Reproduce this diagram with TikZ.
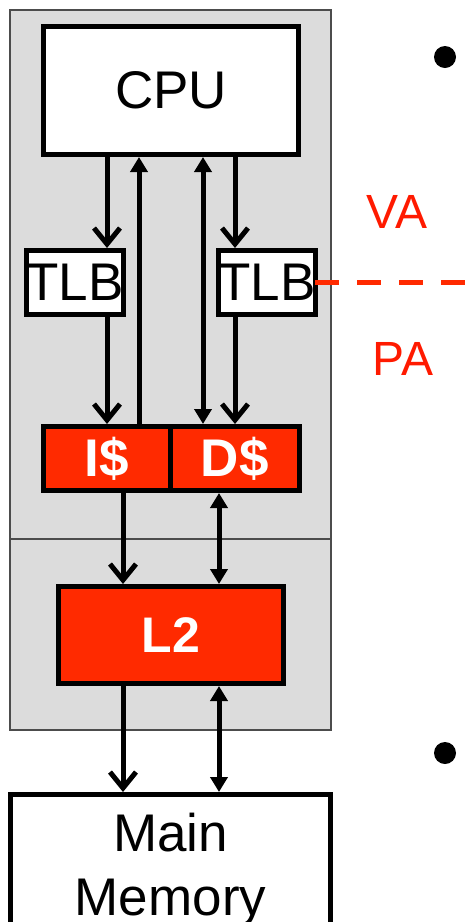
\documentclass[tikz,border=0pt]{standalone}
\usepackage{fontspec}
\setmainfont{Liberation Sans}
\usetikzlibrary{arrows.meta,calc}
\definecolor{cachered}{HTML}{FF2A00}
\definecolor{vared}{HTML}{FF1A00}
\definecolor{chipgray}{HTML}{DCDCDC}
\begin{document}
\begin{tikzpicture}[x=1pt,y=-1pt,
  box/.style={draw, line width=5pt, fill=white, inner sep=0pt,
    font=\fontsize{53}{64}\selectfont},
  cache/.style={box, fill=cachered, text=white,
    font=\bfseries\fontsize{53}{64}\selectfont},
  chip/.style={draw=black!70, line width=1.3pt, fill=chipgray, inner sep=0pt},
  opn/.style={line width=5pt, -{Straight Barb[length=16pt,width=26pt]}},
  fil/.style={line width=5pt, -{Triangle[length=15pt,width=17pt]}},
  bid/.style={line width=5pt, {Triangle[length=15pt,width=17pt]}-{Triangle[length=15pt,width=17pt]}},
  lbl/.style={text=vared, font=\fontsize{48}{58}\selectfont},
  bullet/.style={circle, fill=black, inner sep=0pt, minimum size=22pt}]
\clip (0,0) rectangle (466,922);
% chip background
\node[chip, minimum width=321pt, minimum height=529pt] (chiptop) at (170.5,274.5) {};
\node[chip, minimum width=321pt, minimum height=191pt] (chipbot) at (170.5,634.5) {};
% boxes
\node[box, minimum width=255pt, minimum height=128pt] (cpu) at (171,90.5) {CPU};
\node[box, minimum width=97pt, minimum height=64pt] (tlbL) at (75,282.5) {TLB};
\node[box, minimum width=97pt, minimum height=64pt] (tlbR) at (267,282.5) {TLB};
\node[cache, minimum width=127pt, minimum height=64pt] (icache) at (107,458.5) {I\$};
\node[cache, minimum width=128.5pt, minimum height=64pt] (dcache) at (234.75,458.5) {D\$};
\node[cache, minimum width=225pt, minimum height=97pt, font=\bfseries\fontsize{50}{60}\selectfont] (l2) at (171,635) {L2};
\node[box, minimum width=320pt, minimum height=150pt, align=center] (mem) at (170.5,869.5) {Main\\Memory};
% column coordinates
\coordinate (c1) at (107,0);
\coordinate (c2) at (139,0);
\coordinate (c3) at (203,0);
\coordinate (c4) at (235,0);
\coordinate (c5) at (123,0);
\coordinate (c6) at (219,0);
% connectors
\draw[opn] (cpu.south -| c1) -- (tlbL.north -| c1);
\draw[opn] (tlbL.south -| c1) -- (icache.north -| c1);
\draw[fil] (icache.north -| c2) -- (cpu.south -| c2);
\draw[bid] (cpu.south -| c3) -- (dcache.north -| c3);
\draw[opn] (cpu.south -| c4) -- (tlbR.north -| c4);
\draw[opn] (tlbR.south -| c4) -- (dcache.north -| c4);
\draw[opn] (icache.south -| c5) -- (l2.north -| c5);
\draw[bid] (dcache.south -| c6) -- (l2.north -| c6);
\draw[opn] (l2.south -| c5) -- (mem.north -| c5);
\draw[bid] (l2.south -| c6) -- (mem.north -| c6);
% VA / PA boundary
\coordinate (vaend) at (470,282.5);
\draw[cachered, line width=5pt, dash pattern=on 24pt off 18pt] ([xshift=-3pt]tlbR.east) -- (vaend);
\node[lbl] (va) at (397,212) {VA};
\node[lbl] (pa) at (403,359) {PA};
% bullets
\node[bullet] (b1) at (445,57) {};
\node[bullet] (b2) at (445,753) {};
\end{tikzpicture}
\end{document}
